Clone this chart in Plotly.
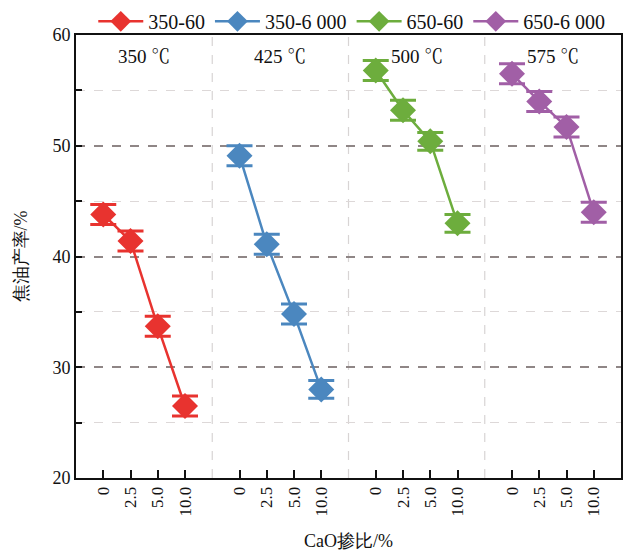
import plotly.graph_objects as go

ratios = ["0", "2.5", "5.0", "10.0"]
temps = ["350", "425", "500", "575"]
names = ["350-60", "350-6 000", "650-60", "650-6 000"]
colors = ["#E8332F", "#4B87BF", "#6DAD3D", "#A15FA6"]
y_350 = [43.8, 41.4, 33.7, 26.5]
y_425 = [49.1, 41.1, 34.8, 28.0]
y_500 = [56.8, 53.2, 50.4, 43.0]
y_575 = [56.5, 54.0, 51.7, 44.0]
err_350 = [0.9, 0.9, 0.9, 0.9]
err_425 = [0.9, 0.9, 0.9, 0.8]
err_500 = [0.9, 0.9, 0.8, 0.8]
err_575 = [0.9, 0.9, 0.9, 0.9]

series = [y_350, y_425, y_500, y_575]
errs = [err_350, err_425, err_500, err_575]

FONT = "Liberation Serif"
CJK = "Noto Serif CJK SC"
GROUP = len(ratios) + 1

fig = go.Figure()
tickvals, ticktext = [], []
for g, (ys, es) in enumerate(zip(series, errs)):
    xs = [g * GROUP + i + 1 for i in range(len(ratios))]
    tickvals += xs
    ticktext += ratios
    fig.add_trace(go.Scatter(
        x=xs, y=ys, name=names[g], mode="lines+markers",
        line=dict(color=colors[g], width=2.5),
        marker=dict(symbol="diamond", size=20, color=colors[g]),
        error_y=dict(type="data", array=es, color=colors[g], thickness=3, width=13),
    ))
    fig.add_annotation(x=g * GROUP + GROUP / 2, y=58.2,
                       text=f"{temps[g]} <span style='font-family:{CJK}'>℃</span>",
                       showarrow=False, font=dict(family=FONT, size=19, color="#111"))
    if g > 0:
        fig.add_shape(type="line", x0=g * GROUP, x1=g * GROUP, y0=20, y1=60, xref="x", yref="y",
                      line=dict(color="#d8d4d4", width=1.2, dash="dash"), layer="below")

fig.update_layout(
    width=630, height=556,
    margin=dict(l=76, r=9, t=35, b=78, autoexpand=False),
    paper_bgcolor="white", plot_bgcolor="white",
    font=dict(family=FONT, size=18, color="#111"),
    showlegend=True,
    legend=dict(orientation="h", x=0.506, xanchor="center", y=1.075, yanchor="top",
                font=dict(family=FONT, size=20), itemwidth=45, tracegroupgap=0,
                bgcolor="rgba(0,0,0,0)"),
)
fig.update_xaxes(
    range=[0, GROUP * len(series)], tickmode="array", tickvals=tickvals, ticktext=ticktext,
    tickangle=-90, ticks="inside", ticklen=8, tickwidth=1.5, tickcolor="#111",
    showgrid=False, zeroline=False, showline=True, linecolor="#111", linewidth=2, mirror=True,
    tickfont=dict(family=FONT, size=17), automargin=False,
    title=dict(text="CaO掺比/%", font=dict(family=FONT, size=18), standoff=19),
)
fig.update_yaxes(
    range=[20, 60], dtick=10, ticks="inside", ticklen=6, tickwidth=1.5, tickcolor="#111",
    showgrid=True, gridcolor="#8f8686", griddash="dash", gridwidth=1.5,
    minor=dict(dtick=5, ticks="inside", ticklen=6, tickwidth=1.5, tickcolor="#111",
               showgrid=True, gridcolor="#ddd8d8", griddash="dash", gridwidth=1),
    zeroline=False, showline=True, linecolor="#111", linewidth=2, mirror=True,
    tickfont=dict(family=FONT, size=18), automargin=False,
    title=dict(text="焦油产率/%", font=dict(family=FONT, size=18), standoff=20),
)

fig.write_html("out.html", post_script="document.body.style.margin='0';",
               config={"displayModeBar": False})
